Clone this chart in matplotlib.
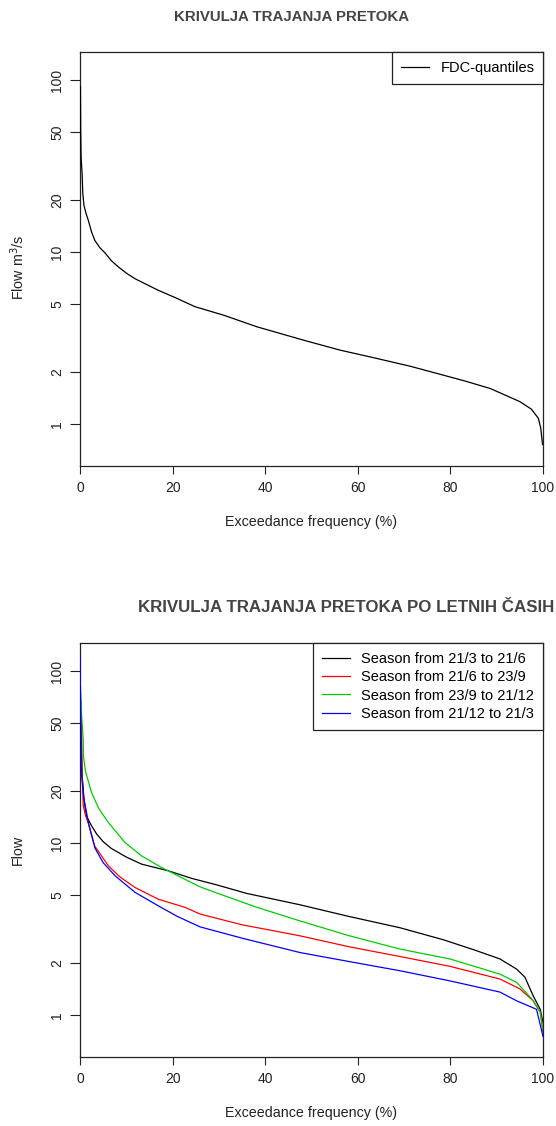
import matplotlib
matplotlib.use("Agg")
import matplotlib.pyplot as plt
from matplotlib.ticker import FixedLocator, NullLocator

plt.rcParams['font.family'] = ['Liberation Sans', 'DejaVu Sans']

# krivulja trajanja - vsi podatki
fdc_pct = [0.1, 0.15, 0.25, 0.45, 0.6, 0.86, 1.3, 1.8, 2.5, 3.2, 4.3, 5.4, 6.8, 8.3, 10.1, 11.9,
           16.9, 20.5, 24.8, 31, 38.2, 48.2, 56.2, 62.6, 71.3, 82.8, 88.6, 95, 97.5, 99, 99.5, 99.9]
fdc_flow = [92, 51, 35, 29, 22, 18.7, 16.8, 15.3, 13.1, 11.7, 10.6, 9.9, 8.9, 8.2, 7.52, 7.0,
            6.0, 5.45, 4.82, 4.3, 3.68, 3.08, 2.69, 2.46, 2.17, 1.79, 1.61, 1.35, 1.22, 1.08, 0.95,
            0.76]

# letni casi
spring_pct = [0.15, 0.25, 0.5, 0.9, 1.4, 2.5, 3.6, 5, 6.8, 10, 13.3, 19.1, 24.1, 29.2, 36, 47.5,
              58, 69.1, 78.5, 85, 90.7, 94.3, 96.1, 97.9, 99.4, 100]
spring_flow = [66, 37, 24, 17.5, 14.4, 12.6, 11.3, 10.2, 9.3, 8.3, 7.55, 6.9, 6.24, 5.75, 5.1,
               4.38, 3.75, 3.22, 2.74, 2.4, 2.12, 1.85, 1.66, 1.29, 1.08, 0.9]

summer_pct = [0.05, 0.35, 0.45, 0.7, 1.2, 1.8, 3.2, 6.1, 8.5, 11.9, 16.9, 22.7, 25.9, 35, 47.5,
              58, 69.1, 79.9, 90.7, 95, 97.9, 99.4, 100]
summer_flow = [75, 48, 26, 16.5, 14.5, 13.0, 9.6, 7.4, 6.4, 5.52, 4.72, 4.23, 3.87, 3.35, 2.89,
               2.5, 2.19, 1.92, 1.62, 1.42, 1.21, 1.04, 0.8]

autumn_pct = [0.05, 0.35, 0.7, 0.75, 1.2, 2.5, 4, 6.1, 9.7, 13.3, 17.6, 21.2, 25.9, 29.2, 38,
              47.5, 58, 69.1, 79.9, 90.7, 94.3, 97.6, 99.4, 100]
autumn_flow = [87, 55, 40, 32, 26, 19.7, 16, 13.2, 10.1, 8.43, 7.22, 6.45, 5.57, 5.17, 4.25,
               3.53, 2.9, 2.42, 2.12, 1.73, 1.55, 1.24, 1.04, 0.82]

winter_pct = [0.0, 0.15, 0.3, 0.8, 1.8, 3.2, 5, 7.6, 11.9, 16.9, 21, 25.9, 35, 47.5, 58, 69.1,
              79.9, 90.7, 94.3, 98.6, 100]
winter_flow = [122, 60, 26, 18.5, 13.2, 9.4, 7.7, 6.45, 5.17, 4.32, 3.75, 3.26, 2.8, 2.31, 2.05,
               1.81, 1.58, 1.36, 1.21, 1.08, 0.75]

season_labels = ["Season from 21/3 to 21/6", "Season from 21/6 to 23/9",
                 "Season from 23/9 to 21/12", "Season from 21/12 to 21/3"]
season_colors = ["black", "#FF0000", "#00CD00", "#0000FF"]

yticks = [1, 2, 5, 10, 20, 50, 100]
xticks = [0, 20, 40, 60, 80, 100]

W, H = 556, 1126
fig = plt.figure(figsize=(W / 100, H / 100), dpi=100)


def make_axes(top_px):
    ax = fig.add_axes([80 / W, 1 - (top_px + 414) / H, 463 / W, 414 / H])
    ax.set_yscale('log')
    ax.set_xlim(0, 100)
    ax.set_ylim(0.57, 146)
    ax.yaxis.set_major_locator(FixedLocator(yticks))
    ax.yaxis.set_minor_locator(NullLocator())
    ax.set_yticklabels([str(v) for v in yticks], rotation=90, va='center')
    ax.set_xticks(xticks)
    ax.tick_params(axis='y', length=7.5, width=0.8, pad=4, labelsize=10, colors='#222222')
    ax.tick_params(axis='x', length=5.8, width=0.8, pad=5, labelsize=10, colors='#222222')
    for s in ax.spines.values():
        s.set_linewidth(0.9)
        s.set_color('#222222')
    ax.set_xlabel("Exceedance frequency (%)", fontsize=10.3, color='#222222')
    ax.xaxis.set_label_coords(0.5, -56 / 414)
    ax.xaxis.label.set_va('center')
    return ax


ax1 = make_axes(52)
ax1.plot(fdc_pct, fdc_flow, color='black', lw=0.9, label='FDC-quantiles', zorder=3)
ax1.set_ylabel("Flow m$^3$/s", fontsize=10.3, color='#222222')
ax1.yaxis.set_label_coords(-62 / 463, 0.48)
ax1.yaxis.label.set_va('center')
leg = ax1.legend(loc='upper right', bbox_to_anchor=(1, 1), borderaxespad=0, fancybox=False,
                 edgecolor='#222222', framealpha=1, fontsize=10.5, handlelength=1.9,
                 handletextpad=0.8, borderpad=0.6)
leg.get_frame().set_linewidth(0.9)

ax2 = make_axes(643)
series = [(spring_pct, spring_flow), (summer_pct, summer_flow),
          (autumn_pct, autumn_flow), (winter_pct, winter_flow)]
for (p, f), lab, col in zip(series, season_labels, season_colors):
    ax2.plot(p, f, color=col, lw=0.9, label=lab, zorder=3)
ax2.set_ylabel("Flow", fontsize=10.3, color='#222222')
ax2.yaxis.set_label_coords(-62 / 463, 0.5)
ax2.yaxis.label.set_va('center')
leg2 = ax2.legend(loc='upper right', bbox_to_anchor=(1, 1), borderaxespad=0, fancybox=False,
                  edgecolor='#222222', framealpha=1, fontsize=10.5, handlelength=1.9,
                  handletextpad=0.8, borderpad=0.6, labelspacing=0.3)
leg2.get_frame().set_linewidth(0.9)
leg2.set_zorder(5)

fig.text(292 / W, 1 - 17 / H, "KRIVULJA TRAJANJA PRETOKA", ha='center', va='center',
         fontsize=10.8, fontweight='bold', color='#444444')
fig.text(346 / W, 1 - 608 / H, "KRIVULJA TRAJANJA PRETOKA PO LETNIH ČASIH", ha='center',
         va='center', fontsize=12.2, fontweight='bold', color='#444444')

fig.savefig("out.png", dpi=100)
